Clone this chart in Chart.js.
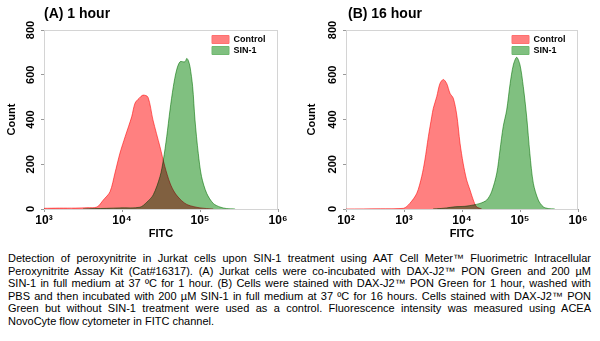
<!DOCTYPE html>
<html>
<head>
<meta charset="utf-8">
<script src="https://cdn.jsdelivr.net/npm/chart.js@4"></script>
<style>
  body { margin: 0; background: #fff; width: 600px; height: 341px; overflow: hidden; position: relative; font-family: Arial, "Liberation Sans", sans-serif; }
  .panel { position: absolute; top: 0; width: 300px; height: 244px; }
  .ttl { position: absolute; top: 5px; font: bold 14px Arial, "Liberation Sans", sans-serif; color: #000; }
  #cap { position: absolute; left: 8px; top: 252px; width: 583px; font-size: 11px; line-height: 12.6px; color: #000; }
  #cap div { text-align: justify; text-align-last: justify; white-space: nowrap; }
  #cap div.last { text-align-last: left; }
</style>
</head>
<body>
<div class="panel" style="left:0"><canvas id="chartA" width="300" height="244"></canvas></div>
<div class="panel" style="left:300px"><canvas id="chartB" width="300" height="244"></canvas></div>
<div class="ttl" style="left:44px">(A) 1 hour</div>
<div class="ttl" style="left:348px">(B) 16 hour</div>
<div id="cap">
  <div>Detection of peroxynitrite in Jurkat cells upon SIN-1 treatment using AAT Cell Meter™ Fluorimetric Intracellular</div>
  <div>Peroxynitrite Assay Kit (Cat#16317). (A) Jurkat cells were co-incubated with DAX-J2™ PON Green and 200 µM</div>
  <div>SIN-1 in full medium at 37 ºC for 1 hour. (B) Cells were stained with DAX-J2™ PON Green for 1 hour, washed with</div>
  <div>PBS and then incubated with 200 µM SIN-1 in full medium at 37 ºC for 16 hours. Cells stained with DAX-J2™ PON</div>
  <div>Green but without SIN-1 treatment were used as a control. Fluorescence intensity was measured using ACEA</div>
  <div class="last">NovoCyte flow cytometer in FITC channel.</div>
</div>
<script>
// series labels
const seriesNames = ['Control', 'SIN-1'];

// (A) 1 hour -- FITC as log10 exponent, count
const aCtrlExp = [3.0, 3.2, 3.4, 3.55, 3.68, 3.76, 3.846, 3.91, 3.974, 4.04, 4.124, 4.167, 4.22, 4.27, 4.333, 4.397, 4.487, 4.55, 4.615, 4.68, 4.765, 4.846, 5.0, 5.17];
const aCtrlCnt = [3, 4, 4, 6, 9, 40, 77, 161, 250, 323, 412, 473, 495, 509, 500, 398, 278, 189, 116, 71, 37, 18, 5, 0];
const aSinExp = [3.5, 3.8, 3.974, 4.23, 4.317, 4.40, 4.487, 4.53, 4.573, 4.615, 4.658, 4.70, 4.744, 4.808, 4.83, 4.85, 4.872, 4.906, 4.936, 4.978, 5.02, 5.086, 5.17, 5.256, 5.34, 5.45];
const aSinCnt = [0, 3, 5, 8, 30, 63, 145, 219, 323, 442, 547, 621, 658, 658, 673, 664, 636, 547, 398, 249, 145, 70, 25, 9, 2, 0];

// (B) 16 hour
const bCtrlExp = [2.0, 2.59, 2.99, 3.10, 3.22, 3.305, 3.36, 3.42, 3.478, 3.505, 3.564, 3.62, 3.678, 3.736, 3.793, 3.85, 3.91, 3.966, 4.02, 4.08, 4.138, 4.195, 4.25, 4.34];
const bCtrlCnt = [0, 1, 3, 25, 70, 145, 219, 323, 412, 450, 502, 561, 579, 561, 517, 495, 420, 294, 204, 130, 85, 40, 10, 0];
const bSinExp = [3.5, 3.62, 3.736, 3.88, 4.05, 4.195, 4.31, 4.426, 4.51, 4.6, 4.655, 4.71, 4.77, 4.83, 4.885, 4.943, 5.0, 5.057, 5.116, 5.17, 5.23, 5.316, 5.4, 5.49, 5.6];
const bSinCnt = [0, 2, 5, 10, 12, 18, 25, 40, 77, 161, 264, 368, 442, 561, 644, 678, 644, 547, 410, 249, 115, 40, 10, 2, 0];

// axes
const countTicks = [0, 200, 400, 600, 800];
const aTickExp = [3, 4, 5, 6];
const bTickExp = [2, 3, 4, 5, 6];

const sup = { 2: '\u00B2', 3: '\u00B3', 4: '\u2074', 5: '\u2075', 6: '\u2076' };
const pts = (exps, cnts) => exps.map((e, i) => ({ x: Math.pow(10, e), y: cnts[i] }));
const FONT = 'Arial, "Liberation Sans", sans-serif';

// multiply blend so the overlap turns olive, plus light plot frame
const blendBox = {
  id: 'blendBox',
  beforeDatasetsDraw(chart) {
    const { ctx, chartArea: a } = chart;
    ctx.save();
    ctx.strokeStyle = '#d4d4d4';
    ctx.lineWidth = 1;
    ctx.strokeRect(a.left + 0.5, a.top + 0.5, a.right - a.left - 1, a.bottom - a.top);
    ctx.restore();
    ctx.save();
    ctx.globalCompositeOperation = 'multiply';
  },
  afterDatasetsDraw(chart) {
    chart.ctx.restore();
  },
  afterLayout(chart) {
    const lg = chart.legend, a = chart.chartArea;
    lg.left = a.right - 68;
    lg.right = lg.left + lg.width;
    lg.top = a.top + 3;
  }
};

function makeChart(id, ctrl, sin, tickExp, axisW) {
  return new Chart(document.getElementById(id), {
    type: 'line',
    data: {
      datasets: [
        { label: seriesNames[0], data: ctrl, backgroundColor: '#ff8080', borderColor: '#ff7070', borderWidth: 1, fill: 'origin', pointRadius: 0, tension: 0.3 },
        { label: seriesNames[1], data: sin, backgroundColor: '#80c080', borderColor: '#70b870', borderWidth: 1, fill: 'origin', pointRadius: 0, tension: 0.3 }
      ]
    },
    options: {
      responsive: false,
      animation: false,
      layout: { padding: { top: 30, right: 22, left: 0, bottom: 0 } },
      plugins: {
        legend: {
          position: 'chartArea',
          align: 'start',
          labels: { boxWidth: 17, boxHeight: 8, padding: 2, color: '#000', font: { family: FONT, size: 9, weight: 'bold' } }
        },
        tooltip: { enabled: false }
      },
      scales: {
        x: {
          type: 'logarithmic',
          min: Math.pow(10, tickExp[0]),
          max: Math.pow(10, tickExp[tickExp.length - 1]),
          afterBuildTicks: s => { s.ticks = tickExp.map(e => ({ value: Math.pow(10, e) })); },
          afterFit: s => { s.height = 35; },
          ticks: {
            autoSkip: false, maxRotation: 0, padding: 1, color: '#000',
            font: { family: FONT, size: 12, weight: 'bold' },
            callback: v => '10' + sup[Math.round(Math.log10(v))]
          },
          grid: { drawOnChartArea: false, tickLength: 3, color: '#999' },
          border: { color: '#999' },
          title: { display: true, text: 'FITC', color: '#000', padding: { top: 0, bottom: 3 }, font: { family: FONT, size: 11, weight: 'bold' } }
        },
        y: {
          min: 0, max: 800,
          afterBuildTicks: s => { s.ticks = countTicks.map(v => ({ value: v })); },
          afterFit: s => { s.width = axisW; },
          ticks: {
            minRotation: 90, maxRotation: 90, crossAlign: 'center', padding: 1, color: '#000',
            font: { family: FONT, size: 11, weight: 'bold' }
          },
          grid: { drawOnChartArea: false, tickLength: 3, color: '#999' },
          border: { color: '#999' },
          title: { display: true, text: 'Count', color: '#000', padding: { top: 5, bottom: 0 }, font: { family: FONT, size: 11, weight: 'bold' } }
        }
      }
    },
    plugins: [blendBox]
  });
}

makeChart('chartA', pts(aCtrlExp, aCtrlCnt), pts(aSinExp, aSinCnt), aTickExp, 44);
makeChart('chartB', pts(bCtrlExp, bCtrlCnt), pts(bSinExp, bSinCnt), bTickExp, 46);
</script>
</body>
</html>
